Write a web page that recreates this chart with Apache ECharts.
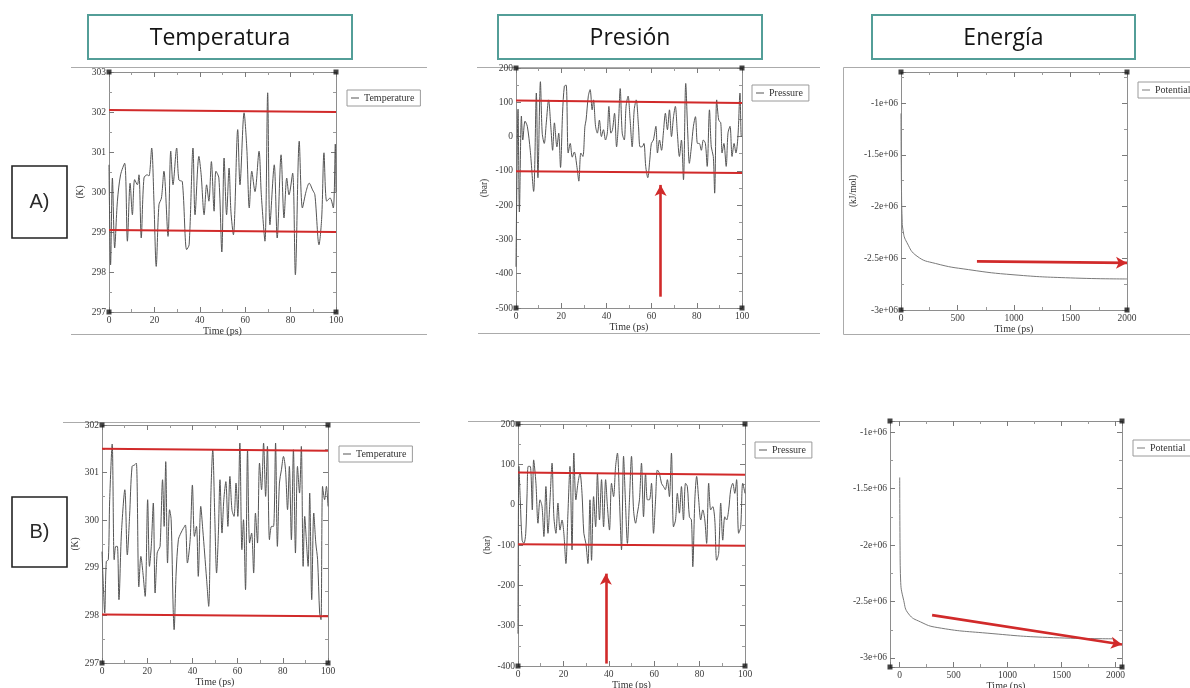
<!DOCTYPE html>
<html>
<head>
<meta charset="utf-8">
<title>Equilibración: temperatura, presión y energía</title>
<script src="https://cdn.jsdelivr.net/npm/echarts@6/dist/echarts.min.js"></script>
<style>
  html, body { margin: 0; padding: 0; background: #ffffff; }
  #chart { width: 1190px; height: 688px; }
</style>
</head>
<body>
<div id="chart"></div>
<script>
// ---------- data: [time (ps), value] ----------
const tempA = [[0,300.68],[0.7,298.18],[1.5,300.35],[2.5,298.6],[3.7,299.77],[5.1,300.43],[6.9,300.72],[8.1,298.77],[9.3,300.22],[10.3,299.43],[11.3,300.31],[12.5,300.18],[13.2,300.43],[14.2,298.85],[15.4,300.35],[16.8,300.43],[17.6,300.4],[18.8,301.1],[19.8,299.77],[20.8,298.14],[22,299.68],[23.1,299.85],[24.2,300.52],[26,298.89],[27.2,301.02],[28.2,300.18],[29.8,301.1],[30.8,300.3],[32.3,300.26],[34.2,298.56],[35.3,298.68],[37,301.1],[37.9,299.43],[39.6,300.89],[40.6,300.43],[41.9,299.43],[43,300.18],[44,299.77],[45.1,300.76],[46.3,299.52],[47.1,300.52],[48.4,300.35],[49.7,298.5],[50.7,300.85],[51.8,299.43],[52.9,300.6],[53.7,299.52],[54.8,298.93],[56.7,301.56],[57.7,300.18],[59.5,301.98],[60.7,301.1],[61.8,299.6],[62.9,300.52],[64.3,300.01],[66.1,301.02],[67.1,299.93],[68.7,298.77],[69.9,302.48],[70.9,299.18],[72.8,300.68],[74.1,298.85],[75.8,300.93],[77.1,299.35],[78.3,300.35],[79.3,299.93],[80.9,300.47],[82.1,297.93],[83.8,301.27],[85.2,299.6],[86.8,300.01],[88.2,300.22],[89.7,300.05],[90.7,299.93],[92.5,298.68],[93.7,299.35],[94.7,300.98],[95.9,299.77],[97.4,299.85],[98.8,299.6],[99.7,301.2],[100,300.0]];

const pressA = [[0,-380],[0.9,80],[1.5,-220],[2.4,60],[3,-10],[4,45],[5,30],[6.3,-40],[7.8,-160],[9,127],[9.7,-120],[10.8,160],[11.6,10],[12.5,-20],[13.4,40],[14.4,107],[15.5,20],[16.2,-40],[17,40],[18.1,-30],[18.9,10],[19.7,-90],[20.6,68],[21.4,147],[22.2,150],[23.1,-48],[24,-20],[24.9,-60],[25.8,-45],[27,-90],[27.8,-130],[28.7,-48],[29.6,-58],[30.5,30],[31,48],[32,118],[32.8,137],[33.7,78],[34.3,107],[35.2,30],[36,10],[36.9,48],[37.8,0],[38.7,20],[39.6,-10],[40.4,10],[41.1,88],[42,10],[42.7,20],[43.6,68],[44.5,-30],[45.4,48],[46.1,140],[47,10],[47.9,-10],[48.7,88],[49.6,118],[50.5,48],[51.4,-30],[52.3,78],[53.2,107],[54.2,30],[54.9,-30],[55.8,-30],[56.6,-20],[57.4,-87],[58.3,-120],[59.2,-68],[59.9,-20],[60.8,-10],[61.9,30],[62.6,-48],[63.5,-10],[64.4,-40],[65.2,10],[66.1,68],[67,20],[67.9,78],[68.8,0],[69.7,58],[70.5,88],[71.4,10],[72.3,-58],[73.2,-10],[74.1,-126],[75.1,155],[76,10],[76.7,-78],[77.6,-30],[78.5,30],[79.4,58],[80.3,-20],[81.1,-20],[82,-40],[82.9,-10],[83.8,-20],[84.6,-87],[85.6,78],[86.4,-30],[87.3,-58],[87.9,-165],[88.8,107],[89.7,48],[90.6,40],[91.2,-48],[92,-20],[93,-87],[93.8,10],[94.7,30],[95.6,-58],[96.5,-20],[97.3,-48],[98.2,0],[99.1,127],[99.7,0],[100,0]];

const energyA = [[0,-1.1e6],[4,-1.8e6],[10,-2.12e6],[18,-2.23e6],[53,-2.35e6],[142,-2.48e6],[304,-2.55e6],[599,-2.61e6],[1000,-2.66e6],[1500,-2.69e6],[2000,-2.70e6]];

const tempB = [[0,299.34],[0.7,298.5],[1.2,298.05],[1.9,299.13],[2.8,299.17],[3.4,300.43],[4.5,301.6],[5.4,299.17],[6.1,299.45],[6.8,299.45],[7.5,298.33],[8.6,299.73],[10.1,300.64],[11.2,299.27],[12.2,300.08],[13.3,301.13],[14.4,301.16],[15.2,301.2],[16.3,298.6],[17.2,299.24],[18.1,298.9],[19.1,298.4],[20.2,300.43],[21,299.03],[21.8,299.45],[22.7,300.36],[23.5,298.47],[24.4,299.31],[25,299.38],[25.7,299.45],[26.8,300.85],[27.5,299.87],[28.2,301.23],[29,299.1],[29.9,300.22],[30.6,300.01],[31.5,298.12],[31.9,297.7],[32.8,298.89],[33.8,299.59],[34.9,299.73],[36,299.83],[36.9,299.9],[37.8,299.1],[39,299.59],[40,300.74],[40.9,299.66],[41.8,299.87],[42.6,298.82],[43.7,300.29],[44.6,299.8],[45.4,299.31],[46.3,298.75],[47.2,298.19],[48.2,300.57],[49,301.48],[49.9,300.08],[50.7,298.89],[51.5,299.73],[52.2,300.85],[53.1,299.73],[53.9,300.43],[54.8,300.81],[55.7,299.87],[56.6,300.92],[57.5,300.22],[58.4,300.08],[59.3,300.78],[60.1,300.08],[61,301.62],[61.9,299.38],[62.6,300.01],[63.5,298.54],[64.4,301.48],[65.3,299.52],[66.2,299.73],[67.1,298.89],[67.9,300.15],[68.8,299.52],[69.7,301.2],[70.6,300.64],[71.5,301.62],[72.4,300.5],[73.2,301.55],[74.1,299.59],[75,299.87],[75.9,299.87],[76.8,301.62],[77.6,299.45],[78.5,300.78],[79.4,301.06],[80.3,301.34],[81.2,301.06],[82.1,300.22],[82.9,301.13],[83.8,299.59],[84.7,301.48],[85.6,299.31],[86.5,301.13],[87.4,300.57],[88.2,301.55],[89,299.03],[89.7,300.08],[90.4,299.59],[91.2,299.03],[91.9,300.57],[92.8,298.33],[93.7,300.15],[94.6,299.52],[95.4,299.17],[96.3,298.05],[96.9,297.91],[97.6,300.71],[98.5,300.43],[99.3,300.71],[100,300.29]];

const pressB = [[0,-320],[0.4,95],[1,12],[1.8,-88],[2.6,-96],[3.4,-72],[4,28],[4.5,95],[5.4,95],[6.3,-13],[6.9,111],[7.9,53],[8.8,-46],[9.7,12],[10.6,-5],[11.4,-79],[12.3,45],[13.2,-71],[14.1,12],[15,103],[15.8,-30],[16.7,-71],[17.6,4],[18.5,-63],[19.4,-38],[20.2,-71],[21.1,-146],[22,-21],[22.9,95],[23.8,-112],[24.6,128],[25.5,12],[26.4,53],[27.3,78],[28.2,28],[29,-71],[29.9,-96],[30.8,-146],[31.7,12],[32.4,-138],[33.3,20],[34.2,-55],[35,78],[35.9,-38],[36.8,62],[37.7,-55],[38.6,62],[39.4,-5],[40.3,-63],[41.2,53],[42.1,20],[43,95],[43.8,128],[44.7,12],[45.6,-112],[46.5,120],[47.3,12],[48.2,-96],[49.1,12],[50,120],[50.9,-13],[51.8,-46],[52.6,-21],[53.5,12],[54.4,103],[55.3,-30],[56.2,78],[57,12],[57.9,12],[58.8,53],[59.7,-71],[60.6,12],[61.4,86],[62.3,78],[63.2,53],[64.1,45],[64.9,37],[65.8,62],[66.7,20],[67.6,128],[68.5,-55],[69.4,-38],[70.2,28],[71.1,-21],[72,45],[72.9,-38],[73.8,53],[74.6,45],[75.5,-30],[76.4,-38],[77,-154],[77.9,12],[78.7,70],[79.6,12],[80.5,-38],[81.4,-13],[82.3,-38],[83.1,-96],[84,53],[84.9,-13],[85.8,-5],[86.7,-38],[87.5,-138],[88.4,-121],[89.3,4],[90.2,-88],[91.1,-30],[91.9,-38],[92.8,-13],[93.7,37],[94.6,53],[95.5,28],[96.3,62],[97.2,-71],[98.1,-55],[99,53],[100,28]];

const energyB = [[0,-1.4e6],[3,-2.0e6],[8,-2.3e6],[37,-2.49e6],[83,-2.61e6],[192,-2.68e6],[347,-2.73e6],[810,-2.78e6],[1427,-2.82e6],[1983,-2.83e6]];

// fluctuation bands (red guide lines): [[x0,y0],[x1,y1]]
const bandTempA  = [[[0,302.05],[100,302.0]], [[0,299.05],[100,299.0]]];
const bandPressA = [[[0,105],[100,98]], [[0,-101],[100,-106]]];
const bandTempB  = [[[0,301.5],[100,301.46]], [[0,298.02],[100,297.98]]];
const bandPressB = [[[0,80],[100,74]], [[0,-98],[100,-102]]];

// red arrows: [tail, head]
const arrowPressA  = [[64,-467],[64,-141]];
const arrowEnergyA = [[672,-2.53e6],[2000,-2.545e6]];
const arrowPressB  = [[38.7,-394],[38.7,-171]];
const arrowEnergyB = [[300,-2.62e6],[2060,-2.88e6]];

// text
const seriesNames = ['Temperature','Pressure','Potential'];
const headings    = ['Temperatura','Presión','Energía'];
const rowLabels   = ['A)','B)'];

// ---------- layout ----------
const SERIF = '"Liberation Serif", "DejaVu Serif", serif';
const RED = '#d12a2a';
const TRACE = '#555555';

// tick label formats: plain integers, and x.xe+06 for energies
const plain = v => String(v);
const sci = v => (Math.round(v / 1e4) / 100) + 'e+06';

const panels = [
  { grid:{left:109, top:72, width:227, height:240},
    x:{min:0, max:100, interval:20}, y:{min:297, max:303, interval:1},
    yName:'(K)', yGap:24, name:seriesNames[0], data:tempA, smooth:0.3,
    bands:bandTempA, arrow:null, legend:{left:347, top:90} },
  { grid:{left:516, top:68, width:226, height:240},
    x:{min:0, max:100, interval:20}, y:{min:-500, max:200, interval:100},
    yName:'(bar)', yGap:27, name:seriesNames[1], data:pressA, smooth:0.3,
    bands:bandPressA, arrow:arrowPressA, legend:{left:752, top:85} },
  { grid:{left:901, top:72, width:226, height:238},
    x:{min:0, max:2000, interval:500}, y:{min:-3e6, max:-0.7e6, interval:5e5, fmt:sci, hideMax:true},
    yName:'(kJ/mol)', yGap:43, name:seriesNames[2], data:energyA, smooth:0.5,
    bands:[], arrow:arrowEnergyA, legend:{left:1138, top:82} },
  { grid:{left:102, top:425, width:226, height:238},
    x:{min:0, max:100, interval:20}, y:{min:297, max:302, interval:1},
    yName:'(K)', yGap:22, name:seriesNames[0], data:tempB, smooth:0.3,
    bands:bandTempB, arrow:null, legend:{left:339, top:446} },
  { grid:{left:518, top:424, width:227, height:242},
    x:{min:0, max:100, interval:20}, y:{min:-400, max:200, interval:100},
    yName:'(bar)', yGap:26, name:seriesNames[1], data:pressB, smooth:0.3,
    bands:bandPressB, arrow:arrowPressB, legend:{left:755, top:442} },
  { grid:{left:890, top:421, width:232, height:246},
    x:{min:-90, max:2060, step:500, hideMin:true, hideMax:true},
    y:{min:-3.08e6, max:-0.9e6, step:5e5, fmt:sci, hideMin:true, hideMax:true},
    yName:'', yGap:40, name:seriesNames[2], data:energyB, smooth:0.5,
    bands:[], arrow:arrowEnergyB, legend:{left:1133, top:440} }
];

function buildAxis(gi, r, position, main, nameOpts) {
  const ax = {
    type:'value', gridIndex:gi, position:position, min:r.min, max:r.max,
    axisLine:{show:true, onZero:false, lineStyle:{color:'#8e8e8e', width:1}},
    axisTick:{show:true, inside:true, length:5, lineStyle:{color:'#7a7a7a'}},
    minorTick:{show:true, splitNumber:2, length:3, lineStyle:{color:'#9a9a9a'}},
    splitLine:{show:false}, minorSplitLine:{show:false},
    axisLabel:{show:false}
  };
  if (r.interval) ax.interval = r.interval;
  else { ax.minInterval = r.step; ax.maxInterval = r.step; ax.splitNumber = 5; }
  if (main) {
    ax.axisLabel = {
      show:true, margin:3, fontFamily:SERIF, fontSize:9.5, color:'#3a3a3a',
      hideOverlap:false, formatter:r.fmt || plain,
      showMinLabel: !r.hideMin, showMaxLabel: !r.hideMax
    };
    if (nameOpts) Object.assign(ax, nameOpts);
  }
  return ax;
}

const grids = [], xAxes = [], yAxes = [], series = [], legends = [];

panels.forEach((p, i) => {
  grids.push(Object.assign({containLabel:false, outerBoundsMode:'none', show:false}, p.grid));
  const xName = {name:'Time (ps)', nameLocation:'middle', nameGap:13,
                 nameTextStyle:{fontFamily:SERIF, fontSize:10, color:'#333'}};
  const yName = p.yName ? {name:p.yName, nameLocation:'middle', nameGap:p.yGap, nameRotate:90,
                 nameTextStyle:{fontFamily:SERIF, fontSize:9.5, color:'#333'}} : null;
  xAxes.push(buildAxis(i, p.x, 'bottom', true, xName));
  xAxes.push(buildAxis(i, p.x, 'top', false));
  yAxes.push(buildAxis(i, p.y, 'left', true, yName));
  yAxes.push(buildAxis(i, p.y, 'right', false));

  const markData = p.bands.map(b => [{coord:b[0]}, {coord:b[1]}]);
  if (p.arrow) {
    markData.push([
      {coord:p.arrow[0], lineStyle:{width:2.6}},
      {coord:p.arrow[1], symbol:'arrow', symbolSize:[9,11]}
    ]);
  }

  const traceColor = p.name === 'Potential' ? '#7a7a7a' : TRACE;
  series.push({
    type:'line', name:p.name, xAxisIndex:2*i, yAxisIndex:2*i,
    data:p.data, showSymbol:false, symbol:'none', smooth:p.smooth,
    lineStyle:{color:traceColor, width:1},
    itemStyle:{color:traceColor},
    emphasis:{disabled:true}, silent:true, z:3,
    markLine:{
      silent:true, symbol:['none','none'], label:{show:false},
      lineStyle:{color:RED, width:2, type:'solid'},
      emphasis:{disabled:true}, animation:false,
      data:markData
    }
  });

  // corner handles of the plot frame
  series.push({
    type:'scatter', xAxisIndex:2*i, yAxisIndex:2*i, silent:true, clip:false, z:6,
    symbol:'rect', symbolSize:5, itemStyle:{color:'#151515'},
    data:[[p.x.min,p.y.min],[p.x.max,p.y.min],[p.x.min,p.y.max],[p.x.max,p.y.max]]
  });

  legends.push({
    data:[p.name], left:p.legend.left, top:p.legend.top, orient:'vertical',
    icon:'rect', itemWidth:8, itemHeight:1, itemGap:0,
    padding:[3,6,3,4], borderColor:'#9a9a9a', borderWidth:1, borderRadius:0,
    backgroundColor:'#ffffff', selectedMode:false,
    textStyle:{fontFamily:SERIF, fontSize:10, color:'#333'}
  });
});

// ---------- decorations ----------
const rule = (x1, y1, x2, y2) => ({type:'line', silent:true, z:-1,
  shape:{x1, y1, x2, y2}, style:{stroke:'#ababab', lineWidth:1}});

function headingBox(x, y, w, h, text) {
  return [
    {type:'rect', silent:true, shape:{x, y, width:w, height:h},
     style:{fill:'#ffffff', stroke:'#539e98', lineWidth:2}},
    {type:'text', silent:true, x:x + w / 2, y:y + h / 2 + 1,
     style:{text, fill:'#151515', font:'23px "Open Sans", "Noto Sans", sans-serif',
            textAlign:'center', textVerticalAlign:'middle'}}
  ];
}

function rowBox(x, y, w, h, text) {
  return [
    {type:'rect', silent:true, shape:{x, y, width:w, height:h},
     style:{fill:'#ffffff', stroke:'#222222', lineWidth:1.6}},
    {type:'text', silent:true, x:x + w / 2, y:y + h / 2,
     style:{text, fill:'#2a2a2a', font:'20px "Liberation Sans", "DejaVu Sans", sans-serif',
            textAlign:'center', textVerticalAlign:'middle'}}
  ];
}

const graphics = [
  rule(71, 67.5, 427, 67.5), rule(71, 334.5, 427, 334.5),
  rule(477, 67.5, 820, 67.5), rule(478, 333.5, 820, 333.5),
  rule(63, 422.5, 420, 422.5), rule(468, 421.5, 820, 421.5),
  {type:'rect', silent:true, z:-1, shape:{x:843.5, y:67.5, width:360, height:267},
   style:{fill:'none', stroke:'#ababab', lineWidth:1}},
  ...headingBox(88, 15, 264, 44, headings[0]),
  ...headingBox(498, 15, 264, 44, headings[1]),
  ...headingBox(872, 15, 263, 44, headings[2]),
  ...rowBox(12, 166, 55, 72, rowLabels[0]),
  ...rowBox(12, 497, 55, 70, rowLabels[1])
];

const chart = echarts.init(document.getElementById('chart'), null, {renderer:'canvas'});
chart.setOption({
  backgroundColor:'#ffffff',
  animation:false,
  grid:grids,
  xAxis:xAxes,
  yAxis:yAxes,
  legend:legends,
  series:series,
  graphic:graphics
});
</script>
</body>
</html>
